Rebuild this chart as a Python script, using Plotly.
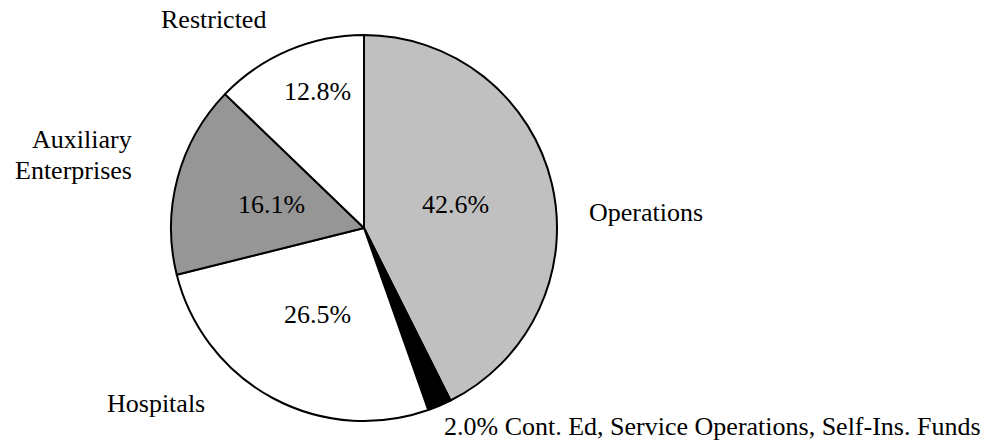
import math
import plotly.graph_objects as go

# ---- data ----
categories = ["Operations", "Cont. Ed, Service Operations, Self-Ins. Funds",
              "Hospitals", "Auxiliary Enterprises", "Restricted"]
shares = [42.6, 2.0, 26.5, 16.1, 12.8]
colors = ["#C0C0C0", "#000000", "#FFFFFF", "#969696", "#FFFFFF"]

W, H = 1005, 440
CX, CY, R = 364, 228, 193  # pie centre / radius in pixels
FONT = "Liberation Serif, Times New Roman, serif"
FS = 26

fig = go.Figure(go.Pie(
    labels=categories,
    values=shares,
    sort=False,
    direction="clockwise",
    rotation=0,
    textinfo="none",
    hoverinfo="label+percent",
    marker=dict(colors=colors, line=dict(color="#000000", width=2)),
    domain=dict(x=[(CX - R) / W, (CX + R) / W],
                y=[1 - (CY + R) / H, 1 - (CY - R) / H]),
    showlegend=False,
))

# percentage labels placed along each slice (angle from 12 o'clock, clockwise)
total = sum(shares)
label_r = [0.49, None, 0.51, 0.495, 0.746]   # fraction of radius
angle_shift = [-1, 0, 0, -1, 4]              # degrees, relative to slice mid
cum = 0.0
annotations = []
for i, v in enumerate(shares):
    start = cum / total * 360
    cum += v
    end = cum / total * 360
    if label_r[i] is None:
        continue
    mid = (start + end) / 2 + angle_shift[i]
    rr = label_r[i] * R
    px = CX + rr * math.sin(math.radians(mid))
    py = CY - rr * math.cos(math.radians(mid))
    annotations.append(dict(x=px / W, y=1 - py / H, xref="paper", yref="paper",
                            text=f"{v:.1f}%", showarrow=False,
                            xanchor="center", yanchor="middle",
                            font=dict(family=FONT, size=FS, color="#000")))

# category labels outside the pie
aux1, aux2 = categories[3].split(" ")
outside = [
    (categories[0], 646, 212, "center"),
    (f"{shares[1]:.1f}% " + categories[1], 442, 426, "left"),
    (categories[2], 156, 403, "center"),
    (aux1, 134, 140, "right"),
    (aux2, 134, 170, "right"),
    (categories[4], 213, 20, "center"),
]
for text, px, py, al in outside:
    annotations.append(dict(x=px / W, y=1 - py / H, xref="paper", yref="paper",
                            text=text, showarrow=False, xanchor=al,
                            yanchor="middle", align=al,
                            font=dict(family=FONT, size=FS, color="#000")))

fig.update_layout(
    width=W, height=H,
    margin=dict(l=0, r=0, t=0, b=0),
    paper_bgcolor="#FFFFFF",
    plot_bgcolor="#FFFFFF",
    annotations=annotations,
)

fig.write_html("out.html",
               config={"displayModeBar": False},
               post_script="document.body.style.margin='0';document.body.style.overflow='hidden';")
